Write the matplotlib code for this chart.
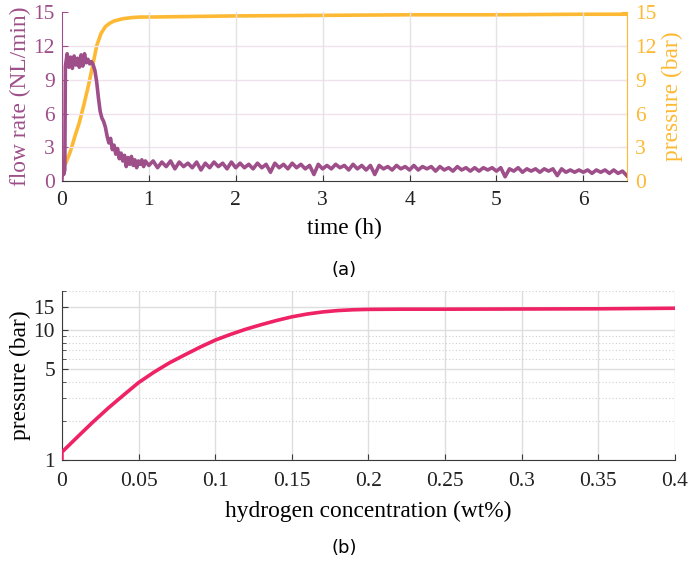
import matplotlib
matplotlib.use("Agg")
import matplotlib.pyplot as plt
import numpy as np
from matplotlib.ticker import FixedLocator, NullFormatter

plt.rcParams["font.family"] = ["Liberation Serif", "DejaVu Serif"]

purple = "#9E4F8A"
yellow = "#FDB933"
pink = "#EE2265"
spine_gray = "#3a3a3a"

# ---- panel (a): flow rate and pressure vs time ----
t_flow_early = [0, 0.005, 0.02, 0.033, 0.04, 0.06, 0.08, 0.10, 0.12, 0.14, 0.16,
                0.18, 0.20, 0.22, 0.24, 0.26, 0.28, 0.30, 0.32, 0.34, 0.36, 0.38,
                0.40, 0.42, 0.44, 0.46, 0.48, 0.50, 0.52, 0.54, 0.56, 0.58, 0.60,
                0.62, 0.64, 0.66, 0.68, 0.70, 0.72, 0.74, 0.76, 0.78, 0.80, 0.82,
                0.84, 0.86, 0.88, 0.90, 0.92, 0.94, 0.96]
flow_early = [0, 1.8, 0.6, 1.0, 10.2, 11.3, 10.1, 11.0, 10.0, 11.1, 10.3,
              10.9, 10.1, 11.2, 10.2, 11.3, 10.5, 10.8, 10.4, 10.6, 10.3, 9.8,
              8.8, 7.4, 6.2, 5.6, 5.3, 4.8, 4.0, 3.4, 3.8, 2.8, 3.2,
              2.4, 2.9, 2.0, 2.5, 1.8, 2.3, 1.3, 2.1, 1.5, 2.2, 1.4,
              1.9, 1.2, 1.8, 1.5, 1.9, 1.3, 1.8]
# from 1.0 h to 6.5 h every 0.05 h
flow_late = [1.4, 1.8, 1.2, 1.7, 1.3, 1.8, 1.1, 1.7, 1.3, 1.6,
             1.2, 1.7, 1.0, 1.6, 1.2, 1.7, 1.3, 1.6, 1.1, 1.7,
             1.2, 1.6, 1.2, 1.5, 1.1, 1.6, 1.2, 1.5, 0.8, 1.6,
             1.2, 1.5, 1.1, 1.6, 1.2, 1.5, 1.1, 1.4, 0.6, 1.5,
             1.1, 1.4, 1.1, 1.5, 1.2, 1.4, 1.0, 1.5, 1.1, 1.4,
             1.0, 1.4, 0.6, 1.4, 1.1, 1.3, 1.0, 1.4, 1.1, 1.3,
             1.0, 1.4, 1.0, 1.3, 1.1, 1.3, 0.9, 1.3, 1.0, 1.2,
             0.9, 1.3, 1.0, 1.2, 0.9, 1.2, 0.9, 1.2, 1.0, 1.2,
             0.9, 1.2, 0.4, 1.1, 0.9, 1.2, 0.8, 1.1, 0.9, 1.1,
             0.8, 1.1, 0.9, 1.1, 0.5, 1.1, 0.8, 1.0, 0.8, 1.0,
             0.8, 1.0, 0.7, 1.0, 0.8, 1.0, 0.7, 1.0, 0.7, 0.9, 0.5]
t_flow_late = np.round(np.arange(len(flow_late)) * 0.05 + 1.0, 3)

t_pres = [0, 0.05, 0.1, 0.15, 0.2, 0.25, 0.3, 0.35, 0.4, 0.45, 0.5, 0.55,
          0.6, 0.7, 0.8, 0.9, 1.0, 1.5, 2, 3, 4, 5, 6, 6.5]
pres = [1.0, 1.7, 2.7, 4.0, 5.2, 6.7, 8.3, 10.1, 12.0, 13.1, 13.7, 14.0,
        14.2, 14.4, 14.5, 14.55, 14.55, 14.6, 14.65, 14.7, 14.75, 14.75, 14.8, 14.8]

# ---- panel (b): pressure vs hydrogen concentration ----
conc = [0, 0, 0.01, 0.02, 0.03, 0.04, 0.05, 0.06, 0.07, 0.08, 0.09, 0.1,
        0.11, 0.12, 0.13, 0.14, 0.15, 0.16, 0.17, 0.18, 0.19, 0.2, 0.22,
        0.25, 0.3, 0.35, 0.4]
pres_b = [0.98, 1.15, 1.5, 1.95, 2.5, 3.15, 3.95, 4.75, 5.6, 6.45, 7.4, 8.4,
          9.3, 10.2, 11.05, 11.9, 12.7, 13.35, 13.85, 14.2, 14.4, 14.5, 14.55,
          14.55, 14.6, 14.65, 14.8]

tick_fs = 15.5
label_fs = 16.8

fig = plt.figure(figsize=(6.88, 5.70), dpi=100)

# panel (a)
ax = fig.add_axes([0.090, 0.682, 0.821, 0.297])
ax.plot(list(t_flow_early) + list(t_flow_late), flow_early + flow_late,
        color=purple, lw=2.6, zorder=3)
ax.set_xlim(0, 6.5)
ax.set_ylim(0, 15)
ax.set_yticks([0, 3, 6, 9, 12, 15])
ax.set_xticks([0, 1, 2, 3, 4, 5, 6])
ax.set_ylabel("flow rate (NL/min)", color=purple, fontsize=label_fs, labelpad=2)
ax.set_xlabel("time (h)", fontsize=label_fs, labelpad=6)
ax.tick_params(axis="y", colors=purple, direction="in", labelsize=tick_fs,
               length=4, pad=5)
ax.tick_params(axis="x", colors=spine_gray, labelcolor="#222222", direction="in",
               labelsize=tick_fs, length=4, pad=7)
for y in [3, 6, 9, 12]:
    ax.axhline(y, color="#f0e2ec", lw=1.0, zorder=0)
for x in [1, 2, 3, 4, 5, 6]:
    ax.axvline(x, color="#e3e3e3", lw=1.0, zorder=0)
ax.spines["top"].set_visible(False)
ax.spines["right"].set_visible(False)
ax.spines["left"].set_color(purple)
ax.spines["bottom"].set_color(spine_gray)

ax2 = ax.twinx()
ax2.plot(t_pres, pres, color=yellow, lw=2.6, zorder=2)
ax2.set_ylim(0, 15)
ax2.set_yticks([0, 3, 6, 9, 12, 15])
ax2.set_ylabel("pressure (bar)", color=yellow, fontsize=label_fs, labelpad=4)
ax2.tick_params(axis="y", colors=yellow, direction="in", labelsize=tick_fs,
                length=4, pad=6)
ax2.spines["top"].set_visible(False)
ax2.spines["left"].set_visible(False)
ax2.spines["bottom"].set_visible(False)
ax2.spines["right"].set_color(yellow)
ax.set_zorder(ax2.get_zorder() + 1)
ax.patch.set_visible(False)

fig.text(0.5, 0.527, "(a)", ha="center", va="center", fontsize=13,
         family="DejaVu Sans")

# panel (b)
bx = fig.add_axes([0.090, 0.193, 0.891, 0.296])
bx.plot(conc, pres_b, color=pink, lw=2.6, zorder=3)
bx.set_yscale("log")
bx.set_xlim(0, 0.4)
bx.set_ylim(1, 20)
bx.yaxis.set_major_locator(FixedLocator([1, 5, 10, 15]))
bx.yaxis.set_minor_locator(FixedLocator([2, 3, 4, 6, 7, 8, 9, 20]))
bx.yaxis.set_minor_formatter(NullFormatter())
bx.set_yticklabels(["1", "5", "10", "15"])
bx.set_xticks([0, 0.05, 0.1, 0.15, 0.2, 0.25, 0.3, 0.35, 0.4])
bx.set_xticklabels(["0", "0.05", "0.1", "0.15", "0.2", "0.25", "0.3", "0.35", "0.4"])
bx.grid(True, which="major", color="#dedede", lw=1.0, zorder=0)
bx.grid(True, which="minor", axis="y", color="#d0d0d0", lw=0.8, ls=(0, (1, 2)), zorder=0)
bx.tick_params(which="both", direction="in", colors=spine_gray, labelcolor="#222222",
               labelsize=tick_fs)
bx.tick_params(axis="x", pad=9)
bx.tick_params(axis="y", pad=5)
bx.tick_params(which="major", length=4)
bx.tick_params(which="minor", length=3)
bx.set_ylabel("pressure (bar)", fontsize=label_fs, labelpad=2)
bx.set_xlabel("hydrogen concentration (wt%)", fontsize=label_fs, labelpad=7)
bx.spines["top"].set_visible(False)
bx.spines["right"].set_visible(False)
bx.spines["left"].set_color(spine_gray)
bx.spines["bottom"].set_color(spine_gray)

fig.text(0.5, 0.039, "(b)", ha="center", va="center", fontsize=13,
         family="DejaVu Sans")

fig.savefig("out.png", dpi=100)
